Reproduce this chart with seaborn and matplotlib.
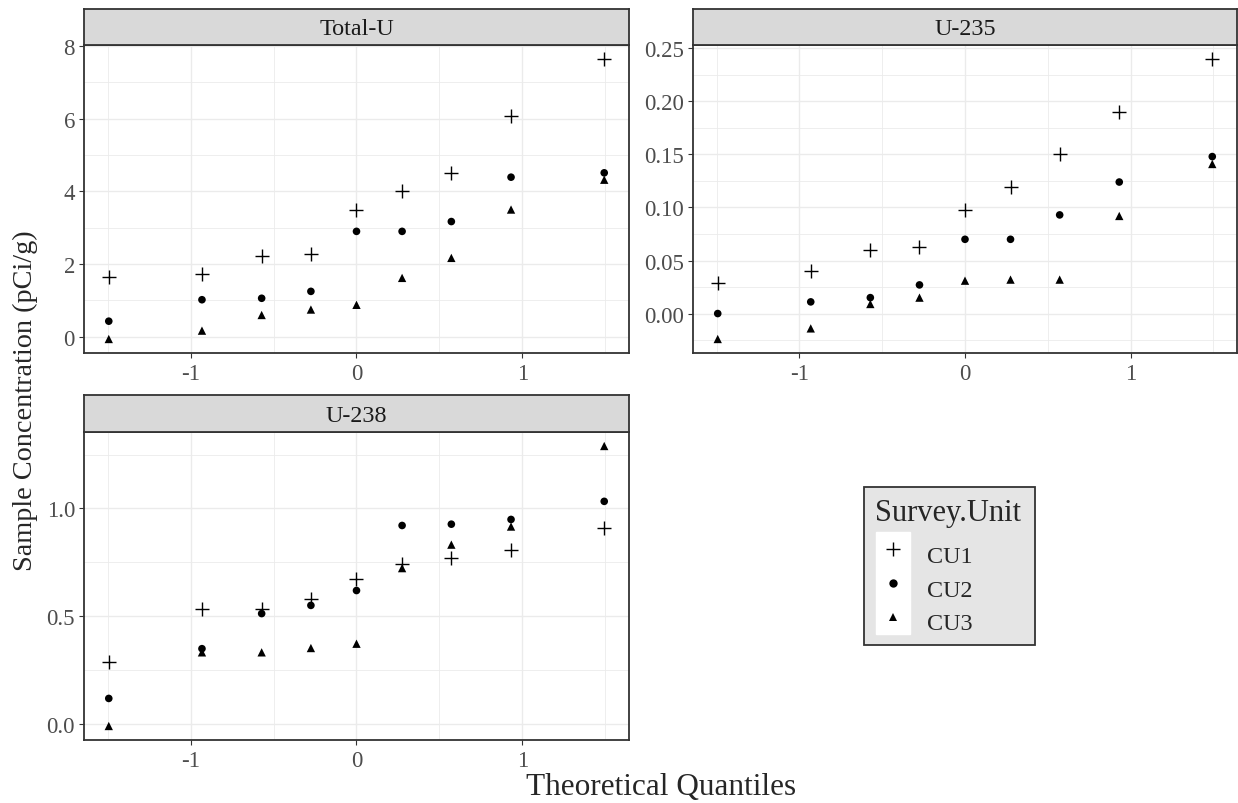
import numpy as np
import pandas as pd
import matplotlib
matplotlib.use("Agg")
import matplotlib.pyplot as plt
import seaborn as sns
from matplotlib.lines import Line2D
from matplotlib.patches import Rectangle
from matplotlib.legend_handler import HandlerTuple
from matplotlib.ticker import MultipleLocator, FormatStrFormatter

# --- data ---
# theoretical normal quantiles for 9 samples per unit
quantiles = [-1.494, -0.932, -0.572, -0.275, 0.0, 0.275, 0.572, 0.932, 1.494]
units = ["CU1", "CU2", "CU3"]
isotopes = ["Total-U", "U-235", "U-238"]

total_cu1 = [1.65, 1.72, 2.23, 2.29, 3.50, 4.00, 4.50, 6.08, 7.64]
total_cu2 = [0.43, 1.02, 1.06, 1.25, 2.90, 2.90, 3.17, 4.39, 4.51]
total_cu3 = [-0.06, 0.17, 0.60, 0.75, 0.88, 1.62, 2.17, 3.50, 4.32]

u235_cu1 = [0.029, 0.040, 0.060, 0.063, 0.098, 0.119, 0.150, 0.190, 0.240]
u235_cu2 = [0.000, 0.011, 0.015, 0.027, 0.070, 0.070, 0.093, 0.124, 0.148]
u235_cu3 = [-0.024, -0.014, 0.009, 0.015, 0.031, 0.032, 0.032, 0.092, 0.141]

u238_cu1 = [0.287, 0.532, 0.532, 0.581, 0.671, 0.740, 0.769, 0.808, 0.909]
u238_cu2 = [0.118, 0.349, 0.512, 0.550, 0.619, 0.921, 0.927, 0.949, 1.033]
u238_cu3 = [-0.010, 0.332, 0.332, 0.352, 0.372, 0.723, 0.832, 0.916, 1.290]

series = {
    ("Total-U", "CU1"): total_cu1, ("Total-U", "CU2"): total_cu2, ("Total-U", "CU3"): total_cu3,
    ("U-235", "CU1"): u235_cu1, ("U-235", "CU2"): u235_cu2, ("U-235", "CU3"): u235_cu3,
    ("U-238", "CU1"): u238_cu1, ("U-238", "CU2"): u238_cu2, ("U-238", "CU3"): u238_cu3,
}
rows = []
for (iso, unit), vals in series.items():
    for q, v in zip(quantiles, vals):
        rows.append({"Isotope": iso, "Survey.Unit": unit, "Quantile": q, "Concentration": v})
df = pd.DataFrame(rows)

# --- styling ---
sns.set_style("white")
plt.rcParams["font.family"] = ["Liberation Serif", "DejaVu Serif"]
plt.rcParams["axes.unicode_minus"] = False

W, H = 1238, 804
fig = plt.figure(figsize=(W / 100, H / 100), dpi=100)

def px_axes(x0, y0, x1, y1):
    return fig.add_axes([x0 / W, 1 - y1 / H, (x1 - x0) / W, (y1 - y0) / H])

panels = {
    "Total-U": ((84, 46, 629, 354), (84, 10, 629, 46)),
    "U-235": ((693, 46, 1237, 354), (693, 10, 1237, 46)),
    "U-238": ((84, 433, 629, 741), (84, 396, 629, 433)),
}
y_major = {"Total-U": 2, "U-235": 0.05, "U-238": 0.5}
y_fmt = {"Total-U": "%d", "U-235": "%.2f", "U-238": "%.1f"}

markers = {"CU1": "+", "CU2": "o", "CU3": "^"}
sizes = {"CU1": 95, "CU2": 30, "CU3": 36}
lws = {"CU1": 1.0, "CU2": 0, "CU3": 0}

border = "#333333"
grid_col = "#EBEBEB"
tick_col = "#4D4D4D"

for iso in isotopes:
    rect, srect = panels[iso]
    ax = px_axes(*rect)
    sub = df[df["Isotope"] == iso]
    for unit in units:
        d = sub[sub["Survey.Unit"] == unit]
        sns.scatterplot(data=d, x="Quantile", y="Concentration", marker=markers[unit],
                        s=sizes[unit], color="black", linewidth=lws[unit],
                        edgecolor="black" if unit == "CU1" else "none",
                        ax=ax, legend=False, zorder=3)
    # ggplot-style 5% expansion
    xlo, xhi = min(quantiles), max(quantiles)
    xp = 0.05 * (xhi - xlo)
    ax.set_xlim(xlo - xp, xhi + xp)
    ylo, yhi = sub["Concentration"].min(), sub["Concentration"].max()
    yp = 0.05 * (yhi - ylo)
    ax.set_ylim(ylo - yp, yhi + yp)

    ax.xaxis.set_major_locator(MultipleLocator(1))
    ax.xaxis.set_minor_locator(MultipleLocator(0.5))
    ax.yaxis.set_major_locator(MultipleLocator(y_major[iso]))
    ax.yaxis.set_minor_locator(MultipleLocator(y_major[iso] / 2))
    ax.yaxis.set_major_formatter(FormatStrFormatter(y_fmt[iso]))
    ax.grid(True, which="major", color=grid_col, linewidth=1.0, zorder=0)
    ax.grid(True, which="minor", color=grid_col, linewidth=0.6, zorder=0)
    ax.set_axisbelow(True)
    ax.tick_params(which="major", direction="out", length=3.5, width=0.8, color=border,
                   labelcolor=tick_col, labelsize=16.5, pad=3, bottom=True, left=True)
    ax.tick_params(axis="x", which="major", pad=4)
    ax.tick_params(which="minor", length=0)
    ax.set_xlabel("")
    ax.set_ylabel("")
    for sp in ax.spines.values():
        sp.set_color(border)
        sp.set_linewidth(1.3)
        sp.set_visible(True)

    sax = px_axes(*srect)
    sax.set_facecolor("#D9D9D9")
    sax.set_xticks([])
    sax.set_yticks([])
    for sp in sax.spines.values():
        sp.set_color(border)
        sp.set_linewidth(1.3)
        sp.set_visible(True)
    sax.text(0.5, 0.45, iso, ha="center", va="center", fontsize=17.4, color="#1A1A1A",
             transform=sax.transAxes)

fig.text(661 / W, 1 - 788 / H, "Theoretical Quantiles", ha="center", va="center", fontsize=22.5)
fig.text(25 / W, 1 - 401 / H, "Sample Concentration (pCi/g)", ha="center", va="center",
         rotation=90, fontsize=20.3)

# legend: grey box, title on top, white key background like ggplot
fig.patches.append(Rectangle((864 / W, 1 - 646 / H), 171 / W, 158 / H,
                             transform=fig.transFigure, facecolor="#E5E5E5",
                             edgecolor=border, linewidth=1.3, zorder=0))
fig.text(875 / W, 1 - 513 / H, "Survey.Unit", ha="left", va="center", fontsize=22)
handles = []
for unit in units:
    bg = Line2D([], [], marker="s", markersize=25, color="white", linestyle="none")
    mk = Line2D([], [], marker=markers[unit], color="black", linestyle="none",
                markersize=10 if unit == "CU1" else 6, markeredgewidth=1.0 if unit == "CU1" else 0)
    handles.append((bg, mk))
leg = fig.legend(handles, units, loc="upper left",
                 bbox_to_anchor=(875 / W, 1 - 538 / H), borderaxespad=0,
                 handler_map={tuple: HandlerTuple(ndivide=1)},
                 fontsize=17.4, frameon=False, handlelength=1.45, handleheight=1.777,
                 labelspacing=0, handletextpad=0.7, borderpad=0)

fig.savefig("out.png", dpi=100)
